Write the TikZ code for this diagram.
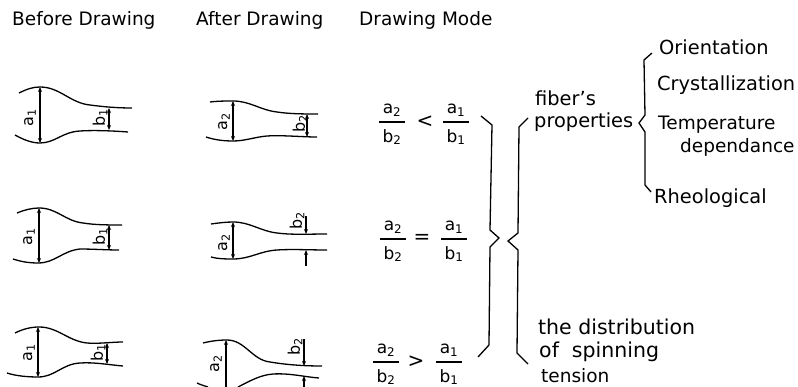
\documentclass[tikz,border=0pt]{standalone}
\usepackage{fontspec}
\setmainfont{DejaVu Sans}
\usepackage{tikz}
\usetikzlibrary{arrows.meta,positioning}

\tikzset{
  label text/.style={font=\fontsize{18.5}{20}\selectfont,inner sep=0pt},
  side text/.style={font=\fontsize{19.4}{20}\selectfont,inner sep=0pt},
  wide text/.style={font=\fontsize{20.5}{21}\selectfont,inner sep=0pt},
  dim text/.style={font=\fontsize{16}{17}\selectfont,inner sep=0pt,rotate=90},
  ratio text/.style={font=\fontsize{17}{18}\selectfont,inner sep=0pt},
  rel text/.style={font=\fontsize{20}{21}\selectfont,inner sep=0pt},
  dim/.style={<->,line width=1.1pt},
  dimin/.style={->,line width=1.1pt},
  wall/.style={line width=1.3pt},
  brace/.style={line width=1.3pt}
}

% one fraction: name, x, y of the bar, top, bottom
\newcommand{\ratiobar}[5]{
  \node[ratio text] (#1top) at (#2,#3-12) {#4};
  \node[ratio text] (#1bot) at (#2,#3+15) {#5};
  \draw[line width=1.1pt] (#2-13,#3) -- (#2+13,#3);
}
\newcommand{\aone}{a\textsubscript{1}}
\newcommand{\atwo}{a\textsubscript{2}}
\newcommand{\bone}{b\textsubscript{1}}
\newcommand{\btwo}{b\textsubscript{2}}

\begin{document}
\begin{tikzpicture}[>={Stealth[length=5pt,width=4pt]},x=1pt,y=-1pt]
  \useasboundingbox (0,0) rectangle (798,387);

  % Headings
  \node[label text,anchor=west] (before) at (12,20) {Before Drawing};
  \node[label text,anchor=west] (after) at (196,20) {After Drawing};
  \node[label text,anchor=west] (mode) at (359,20) {Drawing Mode};

  % Before drawing, row 1
  \draw[wall] (19,93) .. controls (27,89) and (33,87) .. (40,87)
              .. controls (60,87) and (70,103) .. (90,105) .. controls (105,107) and (118,108) .. (132,108);
  \draw[wall] (15,135) .. controls (24,140) and (32,143) .. (40,143)
              .. controls (55,143) and (62,132) .. (80,131) .. controls (95,130) and (115,131) .. (128,132);
  \coordinate (a1top) at (40,87);
  \coordinate (a1bot) at (40,143);
  \coordinate (b1top) at (109,108);
  \coordinate (b1bot) at (109,130);
  \draw[dim] (a1top) -- (a1bot);
  \draw[dim] (b1top) -- (b1bot);
  \node[dim text] (a1) at (30,118) {\aone};
  \node[dim text] (b1) at (100,118) {\bone};

  % Before drawing, row 2
  \draw[wall] (17,213) .. controls (24,210) and (32,208) .. (39,208)
              .. controls (57,208) and (65,221) .. (83,223) .. controls (95,225) and (110,225) .. (122,225);
  \draw[wall] (13,259) .. controls (22,262) and (30,263) .. (38,263)
              .. controls (55,263) and (62,251) .. (80,249) .. controls (92,249) and (107,250) .. (119,250);
  \coordinate (a2top) at (39,208);
  \coordinate (a2bot) at (39,263);
  \coordinate (b2top) at (109,225);
  \coordinate (b2bot) at (109,250);
  \draw[dim] (a2top) -- (a2bot);
  \draw[dim] (b2top) -- (b2bot);
  \node[dim text] (a2) at (29,237) {\aone};
  \node[dim text] (b2) at (100,237) {\bone};

  % Before drawing, row 3
  \draw[wall] (15,333) .. controls (23,329) and (31,327) .. (39,327)
              .. controls (58,327) and (68,341) .. (87,343) .. controls (98,344) and (112,342) .. (123,342);
  \draw[wall] (7,373) .. controls (16,376) and (28,377) .. (38,377)
              .. controls (55,377) and (62,364) .. (80,363) .. controls (95,362) and (110,365) .. (123,366);
  \coordinate (a3top) at (38,327);
  \coordinate (a3bot) at (38,377);
  \coordinate (b3top) at (107,343);
  \coordinate (b3bot) at (107,364);
  \draw[dim] (a3top) -- (a3bot);
  \draw[dim] (b3top) -- (b3bot);
  \node[dim text] (a3) at (29,353) {\aone};
  \node[dim text] (b3) at (98,353) {\bone};

  % After drawing, row 1
  \draw[wall] (210,102) .. controls (218,101) and (226,101) .. (233,101)
              .. controls (250,101) and (260,110) .. (277,112) .. controls (290,114) and (305,114) .. (318,114);
  \draw[wall] (206,137) .. controls (215,140) and (224,141) .. (233,141)
              .. controls (245,141) and (255,137) .. (267,136) .. controls (282,135) and (302,137) .. (317,137);
  \coordinate (c1top) at (233,101);
  \coordinate (c1bot) at (233,141);
  \coordinate (d1top) at (307,114);
  \coordinate (d1bot) at (307,137);
  \draw[dim] (c1top) -- (c1bot);
  \draw[dim] (d1top) -- (d1bot);
  \node[dim text] (c1) at (224,122) {\atwo};
  \node[dim text] (d1) at (300,124) {\btwo};

  % After drawing, row 2
  \draw[wall] (211,224) .. controls (218,223) and (226,222) .. (233,222)
              .. controls (250,222) and (260,231) .. (277,233) .. controls (292,235) and (310,234) .. (327,234);
  \draw[wall] (211,257) .. controls (218,259) and (226,259) .. (233,259)
              .. controls (250,259) and (260,251) .. (277,250) .. controls (292,249) and (310,250) .. (327,250);
  \coordinate (c2top) at (233,222);
  \coordinate (c2bot) at (233,259);
  \coordinate (d2top) at (306,216);
  \coordinate (d2in) at (306,234);
  \coordinate (d2out) at (306,250);
  \coordinate (d2bot) at (306,266);
  \draw[dim] (c2top) -- (c2bot);
  \draw[dimin] (d2top) -- (d2in);
  \draw[dimin] (d2bot) -- (d2out);
  \node[dim text] (c2) at (224,243) {\atwo};
  \node[dim text] (d2) at (297,221) {\btwo};

  % After drawing, row 3
  \draw[wall] (203,343) .. controls (211,341) and (219,340) .. (227,340)
              .. controls (245,340) and (252,360) .. (270,362) .. controls (288,365) and (305,366) .. (322,366);
  \draw[wall] (197,383) .. controls (201,385) and (205,386) .. (208,387);
  \draw[wall] (238,387) .. controls (250,381) and (260,375) .. (273,374) .. controls (290,373) and (305,377) .. (319,378);
  \coordinate (c3top) at (226,340);
  \coordinate (c3bot) at (226,387);
  \coordinate (d3top) at (304,339);
  \coordinate (d3in) at (304,366);
  \coordinate (d3out) at (304,376);
  \coordinate (d3bot) at (304,387);
  \draw[<-,line width=1.1pt] (c3top) -- (c3bot);
  \draw[dimin] (d3top) -- (d3in);
  \draw[dimin] (d3bot) -- (d3out);
  \node[dim text] (c3) at (216,364) {\atwo};
  \node[dim text] (d3) at (295,347) {\btwo};

  % Drawing modes
  \ratiobar{ra}{392}{122}{\atwo}{\btwo}
  \node[rel text] (lt) at (425,122) {<};
  \ratiobar{rb}{456}{122}{\aone}{\bone}
  \ratiobar{sa}{393}{239}{\atwo}{\btwo}
  \node[rel text] (eq) at (422,239) {=};
  \ratiobar{sb}{454}{239}{\aone}{\bone}
  \ratiobar{ta}{386}{362}{\atwo}{\btwo}
  \node[rel text] (gt) at (416,362) {>};
  \ratiobar{tb}{449}{362}{\aone}{\bone}

  % Braces
  \draw[brace] (481,116) -- (492,125) -- (490,230) -- (499,238) -- (490,247) -- (489,345) -- (478,357);
  \draw[brace] (528,118) -- (519,127) -- (518,233) -- (508,241) -- (518,250) -- (517,353) -- (528,364);
  \draw[brace] (652,53) -- (644,60) -- (645,115) -- (639,123) -- (645,132) -- (645,185) -- (651,192);

  % Fiber's properties
  \node[side text,anchor=west] (fiber) at (535,98) {fiber's};
  \node[side text,anchor=west] (prop) at (534,122) {properties};
  \node[side text,anchor=west] (orient) at (659,47) {Orientation};
  \node[side text,anchor=west] (cryst) at (657,85) {Crystallization};
  \node[label text,anchor=west] (temp) at (658,125) {Temperature};
  \node[label text,anchor=west] (depend) at (680,147) {dependance};
  \node[side text,anchor=west] (rheo) at (654,198) {Rheological};

  % Spinning tension
  \node[wide text,anchor=west] (dist) at (538,327) {the distribution};
  \node[wide text,anchor=west] (spin) at (539,352) {of\ \ spinning};
  \node[label text,anchor=west] (tens) at (541,376) {tension};
\end{tikzpicture}
\end{document}
